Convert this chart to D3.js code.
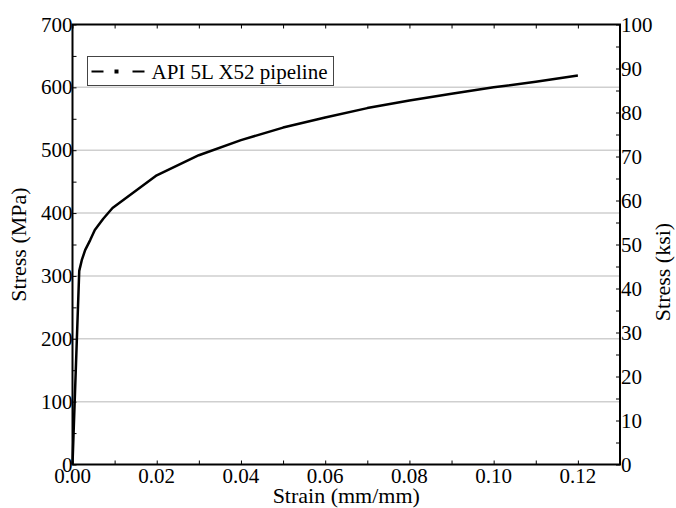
<!DOCTYPE html>
<html>
<head>
<meta charset="utf-8">
<script src="https://cdn.jsdelivr.net/npm/d3@7"></script>
<style>
  html, body { margin: 0; padding: 0; background: #fff; }
  #chart text { font-family: "Liberation Serif", "Times New Roman", Tinos, "Nimbus Roman", FreeSerif, serif !important; }
</style>
</head>
<body>
<svg id="chart" width="676" height="508"></svg>
<script>
// Engineering stress-strain curve, API 5L X52 pipeline steel
const strain = [0, 0.0016, 0.0022, 0.003, 0.0042, 0.0053, 0.0073, 0.0095, 0.02, 0.03, 0.04, 0.05, 0.06, 0.07, 0.08, 0.09, 0.10, 0.11, 0.12];
const stressMPa = [0, 308, 325, 341, 357, 373, 391, 408, 460, 492, 516, 536, 552, 567, 579, 590, 600, 609, 619];
const seriesName = "API 5L X52 pipeline";

const xTicks = [0, 0.02, 0.04, 0.06, 0.08, 0.10, 0.12];
const yTicksMPa = [0, 100, 200, 300, 400, 500, 600, 700];
const yTicksKsi = [0, 10, 20, 30, 40, 50, 60, 70, 80, 90, 100];

const FONT = '"Liberation Serif", "Times New Roman", Tinos, "Nimbus Roman", FreeSerif, serif';
const svg = d3.select("#chart");
const m = { left: 72.5, top: 24.5, right: 620, bottom: 464.5 };

const x = d3.scaleLinear().domain([0, 0.13]).range([m.left, m.right]);
const y = d3.scaleLinear().domain([0, 700]).range([m.bottom, m.top]);
const yK = d3.scaleLinear().domain([0, 100]).range([m.bottom, m.top]);

// all labels share one serif text helper
function label(parent, txt, size) {
  return parent.append("text")
    .attr("font-family", FONT)
    .style("font-family", FONT)
    .attr("font-size", size)
    .attr("fill", "#000")
    .text(txt);
}

// horizontal grid
svg.append("g").selectAll("line")
  .data(yTicksMPa.filter(v => v > 0 && v < 700))
  .join("line")
  .attr("x1", m.left).attr("x2", m.right)
  .attr("y1", d => y(d)).attr("y2", d => y(d))
  .attr("stroke", "#cfcfcf").attr("stroke-width", 1.5);

const fontSize = 21;

// inward tick marks on all four sides
function ticks(axis, transform) {
  const g = svg.append("g").attr("transform", transform).call(axis);
  g.select(".domain").remove();
  g.selectAll(".tick text").remove();
  g.selectAll(".tick line").attr("stroke", "#000");
}
ticks(d3.axisBottom(x).tickValues(d3.range(0, 0.1301, 0.01)).tickSize(-4), `translate(0,${m.bottom})`);
ticks(d3.axisTop(x).tickValues(d3.range(0, 0.1301, 0.01)).tickSize(-4), `translate(0,${m.top})`);
ticks(d3.axisLeft(y).tickValues(d3.range(0, 701, 50)).tickSize(-4), `translate(${m.left},0)`);
ticks(d3.axisRight(yK).tickValues(d3.range(0, 101, 5)).tickSize(-4), `translate(${m.right},0)`);

// tick labels
const lbl = svg.append("g");
xTicks.forEach(d => label(lbl, d3.format(".2f")(d), fontSize)
  .attr("x", x(d)).attr("y", m.bottom + 18).attr("text-anchor", "middle"));
yTicksMPa.forEach(d => label(lbl, d, fontSize)
  .attr("x", m.left).attr("y", y(d)).attr("dy", "0.34em").attr("text-anchor", "end"));
yTicksKsi.forEach(d => label(lbl, d, fontSize)
  .attr("x", m.right + 1).attr("y", yK(d)).attr("dy", "0.34em").attr("text-anchor", "start"));

// frame
svg.append("rect")
  .attr("x", m.left).attr("y", m.top)
  .attr("width", m.right - m.left).attr("height", m.bottom - m.top)
  .attr("fill", "none").attr("stroke", "#000").attr("stroke-width", 2);

// curve
const pts = strain.map((s, i) => [s, stressMPa[i]]);
svg.append("path")
  .datum(pts)
  .attr("fill", "none").attr("stroke", "#000").attr("stroke-width", 2.5)
  .attr("stroke-linejoin", "round")
  .attr("d", d3.line().x(d => x(d[0])).y(d => y(d[1])));

// axis titles
label(svg, "Strain (mm/mm)", 22)
  .attr("transform", `translate(${(m.left + m.right) / 2},503)`)
  .attr("text-anchor", "middle");
label(svg, "Stress (MPa)", 22)
  .attr("transform", `translate(26,${(m.top + m.bottom) / 2}) rotate(-90)`)
  .attr("text-anchor", "middle");
label(svg, "Stress (ksi)", 22)
  .attr("transform", `translate(670,272) rotate(-90)`)
  .attr("text-anchor", "middle");

// legend
const lg = svg.append("g").attr("transform", "translate(87.5,56.5)");
lg.append("rect").attr("width", 246).attr("height", 29)
  .attr("fill", "#fff").attr("stroke", "#444").attr("stroke-width", 1);
lg.append("line").attr("x1", 4).attr("x2", 57).attr("y1", 15).attr("y2", 15)
  .attr("stroke", "#000").attr("stroke-width", 2.2)
  .attr("stroke-dasharray", "12,29,16");
lg.append("rect").attr("x", 27).attr("y", 13).attr("width", 4).attr("height", 4).attr("fill", "#000");
label(lg, seriesName, 21).attr("x", 64).attr("y", 22);
</script>
</body>
</html>
